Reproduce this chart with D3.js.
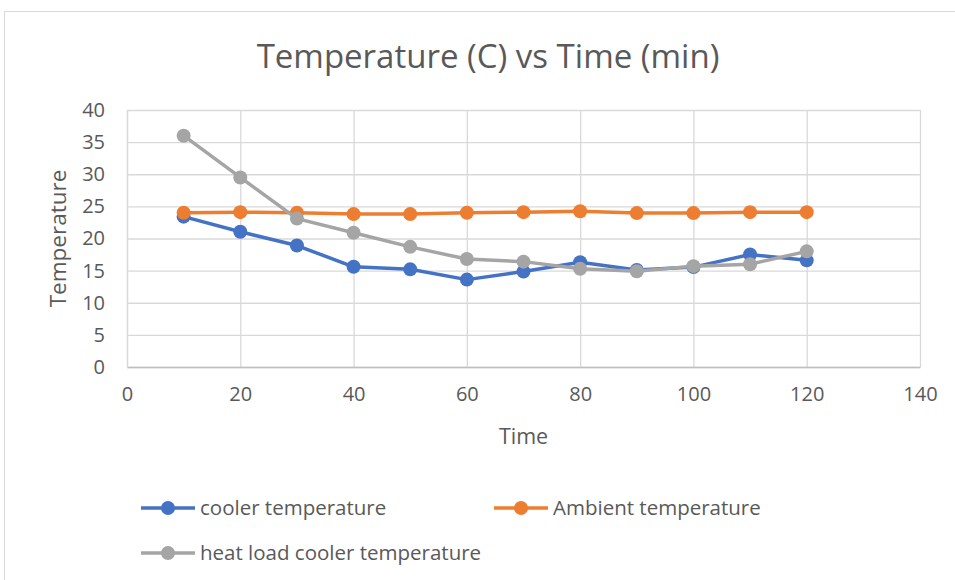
<!DOCTYPE html>
<html>
<head>
<meta charset="utf-8">
<script src="https://cdn.jsdelivr.net/npm/d3@7/dist/d3.min.js"></script>
<style>
  body { margin: 0; background: #fff; }
  svg { display: block; font-family: "Open Sans", sans-serif; }
</style>
</head>
<body>
<svg id="chart" width="955" height="580"></svg>
<script>
// values
const times = [10, 20, 30, 40, 50, 60, 70, 80, 90, 100, 110, 120];
const cooler = [23.4, 21.05, 18.9, 15.6, 15.2, 13.6, 14.85, 16.3, 15.1, 15.55, 17.5, 16.6];
const ambient = [24.0, 24.1, 24.0, 23.8, 23.8, 24.0, 24.1, 24.25, 23.95, 23.95, 24.1, 24.1];
const heatLoad = [36.0, 29.5, 23.1, 20.9, 18.7, 16.8, 16.4, 15.3, 14.9, 15.7, 16.0, 18.0];

const xTicks = [0, 20, 40, 60, 80, 100, 120, 140];
const yTicks = [0, 5, 10, 15, 20, 25, 30, 35, 40];

const series = [
  { name: "cooler temperature", values: cooler, color: "#4472c4" },
  { name: "Ambient temperature", values: ambient, color: "#ed7d31" },
  { name: "heat load cooler temperature", values: heatLoad, color: "#a5a5a5" }
];

const svg = d3.select("#chart");

// chart frame
svg.append("rect")
  .attr("x", 4.5).attr("y", 11.5)
  .attr("width", 960).attr("height", 600)
  .attr("fill", "#fff")
  .attr("stroke", "#d9d9d9");

const x = d3.scaleLinear().domain([0, 140]).range([127, 920]);
const y = d3.scaleLinear().domain([0, 40]).range([367, 110]);

// gridlines
svg.append("g").selectAll("line")
  .data(yTicks)
  .join("line")
  .attr("x1", x(0)).attr("x2", x(140))
  .attr("y1", d => y(d) + 0.5).attr("y2", d => y(d) + 0.5)
  .attr("stroke", "#d9d9d9").attr("stroke-width", 1.3);

svg.append("g").selectAll("line")
  .data(xTicks)
  .join("line")
  .attr("x1", d => x(d) + 0.5).attr("x2", d => x(d) + 0.5)
  .attr("y1", y(0)).attr("y2", y(40))
  .attr("stroke", "#d9d9d9").attr("stroke-width", 1.3);

// axes (labels only, ticks hidden)
const xAxis = svg.append("g")
  .attr("transform", `translate(0,${y(0)})`)
  .call(d3.axisBottom(x).tickValues(xTicks).tickSize(0).tickPadding(20));
xAxis.select(".domain").attr("stroke", "#bfbfbf").attr("stroke-width", 1.3);
xAxis.selectAll("text")
  .attr("fill", "#595959").style("font-size", "20px").style("font-family", "Open Sans");

const yAxis = svg.append("g")
  .attr("transform", `translate(${x(0)},0)`)
  .call(d3.axisLeft(y).tickValues(yTicks).tickSize(0).tickPadding(22));
yAxis.select(".domain").attr("stroke", "#d9d9d9").attr("stroke-width", 1.3);
yAxis.selectAll("text")
  .attr("fill", "#595959").style("font-size", "20px").style("font-family", "Open Sans");

// lines and markers
const line = d3.line()
  .x((d, i) => x(times[i]))
  .y(d => y(d));

series.forEach(s => {
  svg.append("path")
    .datum(s.values)
    .attr("d", line)
    .attr("fill", "none")
    .attr("stroke", s.color)
    .attr("stroke-width", 3.5)
    .attr("stroke-linejoin", "round");
  svg.append("g").selectAll("circle")
    .data(s.values)
    .join("circle")
    .attr("cx", (d, i) => x(times[i]))
    .attr("cy", d => y(d))
    .attr("r", 7)
    .attr("fill", s.color);
});

// titles
svg.append("text")
  .attr("x", 488).attr("y", 68)
  .attr("text-anchor", "middle")
  .attr("fill", "#595959")
  .style("font-size", "33px")
  .text("Temperature (C) vs Time (min)");

svg.append("text")
  .attr("x", x(70)).attr("y", 444)
  .attr("text-anchor", "middle")
  .attr("fill", "#595959")
  .style("font-size", "21.5px")
  .text("Time");

svg.append("text")
  .attr("transform", `translate(66,${y(20)}) rotate(-90)`)
  .attr("text-anchor", "middle")
  .attr("fill", "#595959")
  .style("font-size", "22.5px")
  .text("Temperature");

// legend
const legendPos = [[141, 508], [494, 508], [141, 553]];
series.forEach((s, i) => {
  const [lx, ly] = legendPos[i];
  const g = svg.append("g").attr("transform", `translate(${lx},${ly})`);
  g.append("line")
    .attr("x1", 0).attr("x2", 54)
    .attr("stroke", s.color).attr("stroke-width", 3.5);
  g.append("circle").attr("cx", 27).attr("r", 7).attr("fill", s.color);
  g.append("text")
    .attr("x", 59).attr("y", 7)
    .attr("fill", "#595959")
    .style("font-size", "20.5px")
    .text(s.name);
});
</script>
</body>
</html>
